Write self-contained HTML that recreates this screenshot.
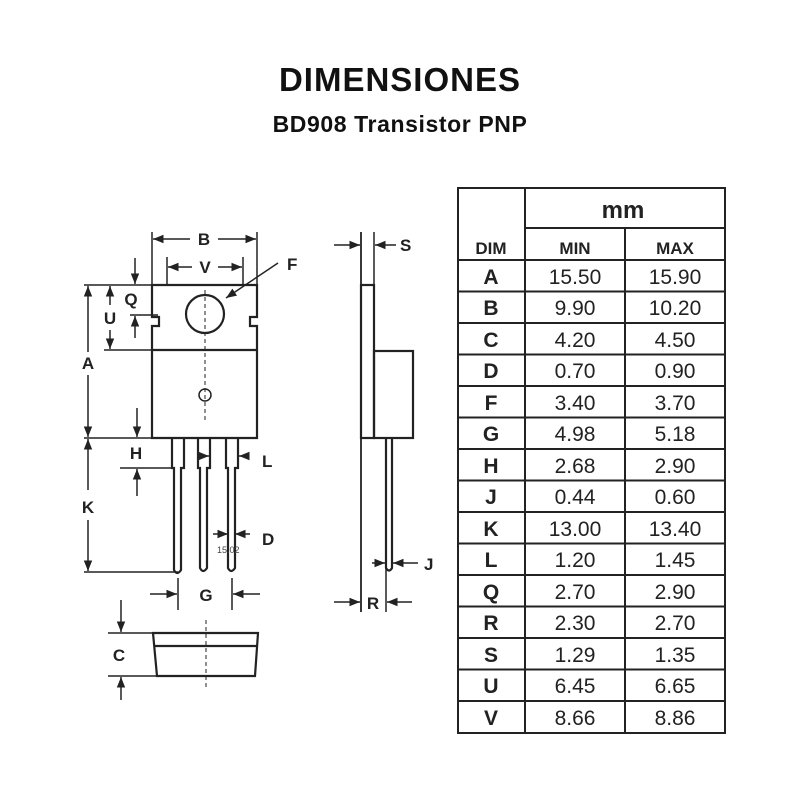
<!DOCTYPE html>
<html><head><meta charset="utf-8"><style>
body{margin:0;background:#fff;width:800px;height:800px;overflow:hidden}
svg{display:block}
.t{font-family:"Liberation Sans",sans-serif;font-weight:bold;fill:#111}
.d{font-family:"Liberation Sans",sans-serif;font-weight:bold;fill:#222;font-size:17px}
</style></head><body>
<svg width="800" height="800" viewBox="0 0 800 800">
<defs><marker id="a" viewBox="0 0 10 10" refX="10" refY="5" markerWidth="7" markerHeight="7" orient="auto-start-reverse"><path d="M0,1 L10,5 L0,9z" fill="#222"/></marker></defs>
<text x="400" y="91" text-anchor="middle" class="t" font-size="33" letter-spacing="1">DIMENSIONES</text>
<text x="400" y="132" text-anchor="middle" class="t" font-size="23" letter-spacing="0.6">BD908 Transistor PNP</text>
<g stroke="#222" stroke-width="2.2" fill="none">
<path d="M152,285 H257 V317 H250 V326 H257 V438 H152 V326 H159 V317 H152 Z"/>
<line x1="152" y1="350" x2="257" y2="350"/>
<circle cx="205" cy="314" r="19"/>
<circle cx="205" cy="395" r="6" stroke-width="1.5"/>
<line x1="205" y1="290" x2="205" y2="420" stroke-width="1" stroke-dasharray="4,3"/>
<path d="M172,438 V468 H174 V570 Q177,576 181,570 V468 H184 V438"/>
<path d="M198,438 V468 H200 V568 Q203,574 207,568 V468 H210 V438"/>
<path d="M226,438 V468 H228 V568 Q231,574 235,568 V468 H238 V438" />
<line x1="152" y1="232" x2="152" y2="285" stroke-width="1.5"/>
<line x1="257" y1="232" x2="257" y2="285" stroke-width="1.5"/>
<line x1="167" y1="257" x2="167" y2="285" stroke-width="1.5"/>
<line x1="243" y1="257" x2="243" y2="285" stroke-width="1.5"/>
<line x1="190" y1="239" x2="153" y2="239" stroke-width="1.5" marker-end="url(#a)"/>
<line x1="218" y1="239" x2="256" y2="239" stroke-width="1.5" marker-end="url(#a)"/>
<line x1="192" y1="267" x2="168" y2="267" stroke-width="1.5" marker-end="url(#a)"/>
<line x1="218" y1="267" x2="242" y2="267" stroke-width="1.5" marker-end="url(#a)"/>
<line x1="278" y1="263" x2="226" y2="298" stroke-width="1.5" marker-end="url(#a)"/>
<line x1="84" y1="285" x2="152" y2="285" stroke-width="1.5"/>
<line x1="84" y1="438" x2="152" y2="438" stroke-width="1.5"/>
<line x1="84" y1="572" x2="178" y2="572" stroke-width="1.5"/>
<line x1="88" y1="352" x2="88" y2="286" stroke-width="1.5" marker-end="url(#a)"/>
<line x1="88" y1="375" x2="88" y2="437" stroke-width="1.5" marker-end="url(#a)"/>
<line x1="88" y1="490" x2="88" y2="439" stroke-width="1.5" marker-end="url(#a)"/>
<line x1="88" y1="520" x2="88" y2="571" stroke-width="1.5" marker-end="url(#a)"/>
<line x1="104" y1="350" x2="152" y2="350" stroke-width="1.5"/>
<line x1="130" y1="315" x2="158" y2="315" stroke-width="1.5"/>
<line x1="110" y1="305" x2="110" y2="286" stroke-width="1.5" marker-end="url(#a)"/>
<line x1="110" y1="330" x2="110" y2="349" stroke-width="1.5" marker-end="url(#a)"/>
<line x1="135" y1="258" x2="135" y2="284" stroke-width="1.5" marker-end="url(#a)"/>
<line x1="135" y1="338" x2="135" y2="316" stroke-width="1.5" marker-end="url(#a)"/>
<line x1="120" y1="468" x2="172" y2="468" stroke-width="1.5"/>
<line x1="137" y1="408" x2="137" y2="437" stroke-width="1.5" marker-end="url(#a)"/>
<line x1="137" y1="496" x2="137" y2="469" stroke-width="1.5" marker-end="url(#a)"/>
<line x1="200" y1="456" x2="209" y2="456" stroke-width="1.5" marker-end="url(#a)"/>
<line x1="248" y1="456" x2="239" y2="456" stroke-width="1.5" marker-end="url(#a)"/>
<line x1="213" y1="534" x2="228" y2="534" stroke-width="1.5" marker-end="url(#a)"/>
<line x1="250" y1="534" x2="235" y2="534" stroke-width="1.5" marker-end="url(#a)"/>
<line x1="178" y1="578" x2="178" y2="610" stroke-width="1.5"/>
<line x1="232" y1="578" x2="232" y2="610" stroke-width="1.5"/>
<line x1="150" y1="594" x2="177" y2="594" stroke-width="1.5" marker-end="url(#a)"/>
<line x1="260" y1="594" x2="233" y2="594" stroke-width="1.5" marker-end="url(#a)"/>
<path d="M153,633 H258 L255,676 H157 Z"/>
<line x1="154" y1="646" x2="257" y2="646"/>
<line x1="108" y1="633" x2="153" y2="633" stroke-width="1.5"/>
<line x1="108" y1="676" x2="157" y2="676" stroke-width="1.5"/>
<line x1="206" y1="620" x2="206" y2="690" stroke-width="1" stroke-dasharray="4,3"/>
<line x1="121" y1="600" x2="121" y2="632" stroke-width="1.5" marker-end="url(#a)"/>
<line x1="121" y1="700" x2="121" y2="677" stroke-width="1.5" marker-end="url(#a)"/>
<line x1="361" y1="232" x2="361" y2="612" stroke-width="1.8"/>
<line x1="374" y1="232" x2="374" y2="285" stroke-width="1.5"/>
<rect x="361" y="285" width="13" height="153"/>
<rect x="374" y="351" width="39" height="87"/>
<path d="M386,438 V568 Q389,573 392,568 V438"/>
<line x1="386" y1="568" x2="386" y2="612" stroke-width="1.5"/>
<line x1="334" y1="245" x2="360" y2="245" stroke-width="1.5" marker-end="url(#a)"/>
<line x1="396" y1="245" x2="375" y2="245" stroke-width="1.5" marker-end="url(#a)"/>
<line x1="372" y1="563" x2="385" y2="563" stroke-width="1.5" marker-end="url(#a)"/>
<line x1="418" y1="563" x2="393" y2="563" stroke-width="1.5" marker-end="url(#a)"/>
<line x1="334" y1="602" x2="360" y2="602" stroke-width="1.5" marker-end="url(#a)"/>
<line x1="412" y1="602" x2="387" y2="602" stroke-width="1.5" marker-end="url(#a)"/>
</g>
<g class="d">
<text x="204" y="245" text-anchor="middle">B</text>
<text x="205" y="273" text-anchor="middle">V</text>
<text x="287" y="270">F</text>
<text x="131" y="305" text-anchor="middle">Q</text>
<text x="110" y="324" text-anchor="middle">U</text>
<text x="88" y="369" text-anchor="middle">A</text>
<text x="136" y="459" text-anchor="middle">H</text>
<text x="262" y="467">L</text>
<text x="88" y="513" text-anchor="middle">K</text>
<text x="262" y="545">D</text>
<text x="206" y="601" text-anchor="middle">G</text>
<text x="119" y="661" text-anchor="middle">C</text>
<text x="400" y="251">S</text>
<text x="424" y="570">J</text>
<text x="373" y="609" text-anchor="middle">R</text>
</g>
<text x="217" y="553" font-family="Liberation Sans" font-size="9" fill="#444">15.02</text>
<g stroke="#222" stroke-width="2" fill="none">
<rect x="458" y="188" width="267" height="545"/>
<line x1="525" y1="188" x2="525" y2="733"/>
<line x1="625" y1="228" x2="625" y2="733"/>
<line x1="525" y1="228" x2="725" y2="228"/>
<line x1="458" y1="260" x2="725" y2="260"/>
<line x1="458" y1="291.5" x2="725" y2="291.5"/><line x1="458" y1="323" x2="725" y2="323"/><line x1="458" y1="354.5" x2="725" y2="354.5"/><line x1="458" y1="386" x2="725" y2="386"/><line x1="458" y1="417.5" x2="725" y2="417.5"/><line x1="458" y1="449" x2="725" y2="449"/><line x1="458" y1="480.5" x2="725" y2="480.5"/><line x1="458" y1="512" x2="725" y2="512"/><line x1="458" y1="543.5" x2="725" y2="543.5"/><line x1="458" y1="575" x2="725" y2="575"/><line x1="458" y1="606.5" x2="725" y2="606.5"/><line x1="458" y1="638" x2="725" y2="638"/><line x1="458" y1="669.5" x2="725" y2="669.5"/><line x1="458" y1="701" x2="725" y2="701"/>
</g>
<g font-family="Liberation Sans" font-weight="bold" fill="#222" text-anchor="middle">
<text x="623" y="218" font-size="24">mm</text>
<text x="491" y="254" font-size="17">DIM</text>
<text x="575" y="254" font-size="17">MIN</text>
<text x="675" y="254" font-size="17">MAX</text>
</g>
<g font-family="Liberation Sans" font-size="21" fill="#222" text-anchor="middle">
<g font-weight="bold">
<text x="491" y="284">A</text><text x="491" y="315">B</text><text x="491" y="347">C</text><text x="491" y="378">D</text><text x="491" y="410">F</text><text x="491" y="441">G</text><text x="491" y="473">H</text><text x="491" y="504">J</text><text x="491" y="536">K</text><text x="491" y="567">L</text><text x="491" y="599">Q</text><text x="491" y="630">R</text><text x="491" y="662">S</text><text x="491" y="693">U</text><text x="491" y="725">V</text>
</g>
<text x="575" y="284">15.50</text><text x="675" y="284">15.90</text>
<text x="575" y="315">9.90</text><text x="675" y="315">10.20</text>
<text x="575" y="347">4.20</text><text x="675" y="347">4.50</text>
<text x="575" y="378">0.70</text><text x="675" y="378">0.90</text>
<text x="575" y="410">3.40</text><text x="675" y="410">3.70</text>
<text x="575" y="441">4.98</text><text x="675" y="441">5.18</text>
<text x="575" y="473">2.68</text><text x="675" y="473">2.90</text>
<text x="575" y="504">0.44</text><text x="675" y="504">0.60</text>
<text x="575" y="536">13.00</text><text x="675" y="536">13.40</text>
<text x="575" y="567">1.20</text><text x="675" y="567">1.45</text>
<text x="575" y="599">2.70</text><text x="675" y="599">2.90</text>
<text x="575" y="630">2.30</text><text x="675" y="630">2.70</text>
<text x="575" y="662">1.29</text><text x="675" y="662">1.35</text>
<text x="575" y="693">6.45</text><text x="675" y="693">6.65</text>
<text x="575" y="725">8.66</text><text x="675" y="725">8.86</text>
</g>
</svg>
</body></html>
